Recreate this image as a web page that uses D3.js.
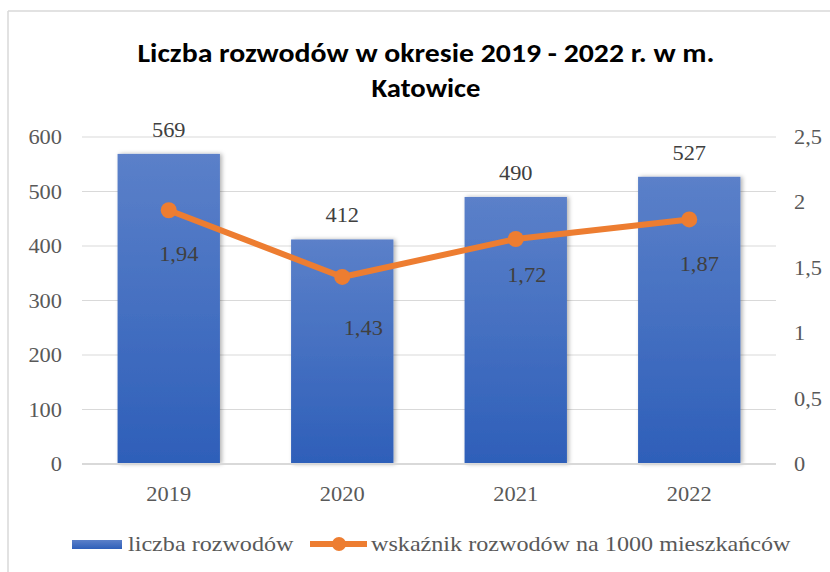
<!DOCTYPE html>
<html>
<head>
<meta charset="utf-8">
<script src="https://cdn.jsdelivr.net/npm/d3@7"></script>
<style>
  body { margin: 0; background: #fff; }
  svg { display: block; }
</style>
</head>
<body>
<div id="chart"></div>
<script>
// dane
const years = ["2019", "2020", "2021", "2022"]
const divorces = [569, 412, 490, 527]
const rate = [1.94, 1.43, 1.72, 1.87]
const leftTicks = [0, 100, 200, 300, 400, 500, 600]
const rightTicks = [0, 0.5, 1, 1.5, 2, 2.5]
const titleLines = ["Liczba rozwodów w okresie 2019 - 2022 r. w m.", "Katowice"]
const legendLabels = ["liczba rozwodów", "wskaźnik rozwodów na 1000 mieszkańców"]

// przesunięcia etykiet linii (jak w oryginale)
const rateLabelShift = [[10, 51], [21, 58], [11, 43], [10, 52]]

const W = 830, H = 572
const plot = { left: 82, right: 776, top: 137, bottom: 464 }
const serif = "'Liberation Serif', 'Times New Roman', serif"
const textColor = "#595959"

const fmt = v => String(v).replace(".", ",")

const svg = d3.select("#chart").append("svg")
    .attr("width", W)
    .attr("height", H)

const defs = svg.append("defs")
const grad = defs.append("linearGradient")
    .attr("id", "barGrad")
    .attr("x1", 0).attr("y1", 0).attr("x2", 0).attr("y2", 1)
grad.append("stop").attr("offset", "0%").attr("stop-color", "#5b80c9")
grad.append("stop").attr("offset", "100%").attr("stop-color", "#2e5fb9")

const shadow = defs.append("filter").attr("id", "shadow")
    .attr("x", "-10%").attr("y", "-10%").attr("width", "130%").attr("height", "120%")
shadow.append("feDropShadow")
    .attr("dx", 2).attr("dy", 0).attr("stdDeviation", 2)
    .attr("flood-color", "#000").attr("flood-opacity", 0.3)

// ramka wykresu
svg.append("line")
    .attr("x1", 8).attr("x2", 8).attr("y1", 11).attr("y2", H)
    .attr("stroke", "#d9d9d9").attr("stroke-width", 1.5)
svg.append("line")
    .attr("x1", 8).attr("x2", W).attr("y1", 11).attr("y2", 11)
    .attr("stroke", "#d9d9d9").attr("stroke-width", 1.5)

// tekst rozciągnięty w poziomie
function label(x, y, s, anchor, size, color, sx) {
    return svg.append("text")
        .attr("transform", "translate(" + x + "," + y + ") scale(" + (sx || 1.12) + ",1)")
        .attr("text-anchor", anchor)
        .style("font-family", serif)
        .style("font-size", size + "px")
        .attr("fill", color)
        .text(s)
}

// tytuł
const titleWidths = [577, 109]
titleLines.forEach(function (t, i) {
    svg.append("text")
        .attr("x", 426)
        .attr("y", 62 + i * 35)
        .attr("text-anchor", "middle")
        .attr("textLength", titleWidths[i])
        .attr("lengthAdjust", "spacingAndGlyphs")
        .style("font-family", "Carlito, 'Liberation Sans Narrow', 'Liberation Sans', sans-serif")
        .style("font-weight", "bold")
        .style("font-size", "27px")
        .attr("fill", "#000")
        .text(t)
})

// skale
const x = d3.scaleBand()
    .domain(years)
    .range([plot.left, plot.right])
    .paddingInner(0.41)
    .paddingOuter(0.205)

const y = d3.scaleLinear()
    .domain([0, 600])
    .range([plot.bottom, plot.top])

const y2 = d3.scaleLinear()
    .domain([0, 2.5])
    .range([plot.bottom, plot.top])

// siatka
svg.append("g")
    .selectAll("line")
    .data(leftTicks.slice(1))
    .enter()
    .append("line")
    .attr("x1", plot.left).attr("x2", plot.right)
    .attr("y1", d => y(d)).attr("y2", d => y(d))
    .attr("stroke", "#d9d9d9").attr("stroke-width", 1)

// etykiety osi
leftTicks.forEach(function (t) {
    label(62, y(t) + 7, t, "end", 20, textColor)
})
rightTicks.forEach(function (t) {
    label(794, y2(t) + 7, fmt(t), "start", 20, textColor)
})
years.forEach(function (yr) {
    label(x(yr) + x.bandwidth() / 2, 501, yr, "middle", 20, textColor)
})

// słupki
svg.append("g")
    .selectAll("rect")
    .data(divorces)
    .enter()
    .append("rect")
    .attr("x", (d, i) => x(years[i]))
    .attr("y", d => y(d))
    .attr("width", x.bandwidth())
    .attr("height", d => plot.bottom - y(d))
    .attr("fill", "url(#barGrad)")
    .attr("filter", "url(#shadow)")

// oś X
svg.append("line")
    .attr("x1", plot.left).attr("x2", plot.right)
    .attr("y1", plot.bottom).attr("y2", plot.bottom)
    .attr("stroke", "#d9d9d9").attr("stroke-width", 2)

divorces.forEach(function (d, i) {
    label(x(years[i]) + x.bandwidth() / 2, y(d) - 17, d, "middle", 20, "#404040")
})

// linia wskaźnika
const cx = i => x(years[i]) + x.bandwidth() / 2
const line = d3.line()
    .x((d, i) => cx(i))
    .y(d => y2(d))

svg.append("path")
    .datum(rate)
    .attr("d", line)
    .attr("fill", "none")
    .attr("stroke", "#ed7d31")
    .attr("stroke-width", 6)
    .attr("stroke-linejoin", "round")

svg.append("g")
    .selectAll("circle")
    .data(rate)
    .enter()
    .append("circle")
    .attr("cx", (d, i) => cx(i))
    .attr("cy", d => y2(d))
    .attr("r", 8)
    .attr("fill", "#ed7d31")

rate.forEach(function (d, i) {
    label(cx(i) + rateLabelShift[i][0], y2(d) + rateLabelShift[i][1], fmt(d), "middle", 20, "#404040")
})

// legenda
svg.append("rect")
    .attr("x", 72).attr("y", 540)
    .attr("width", 50).attr("height", 9)
    .attr("fill", "url(#barGrad)")
label(128, 551, legendLabels[0], "start", 21, textColor, 1.15)

svg.append("line")
    .attr("x1", 310).attr("x2", 367)
    .attr("y1", 544).attr("y2", 544)
    .attr("stroke", "#ed7d31").attr("stroke-width", 6)
svg.append("circle")
    .attr("cx", 339).attr("cy", 544).attr("r", 7)
    .attr("fill", "#ed7d31")
label(371, 551, legendLabels[1], "start", 21, textColor, 1.15)
</script>
</body>
</html>
